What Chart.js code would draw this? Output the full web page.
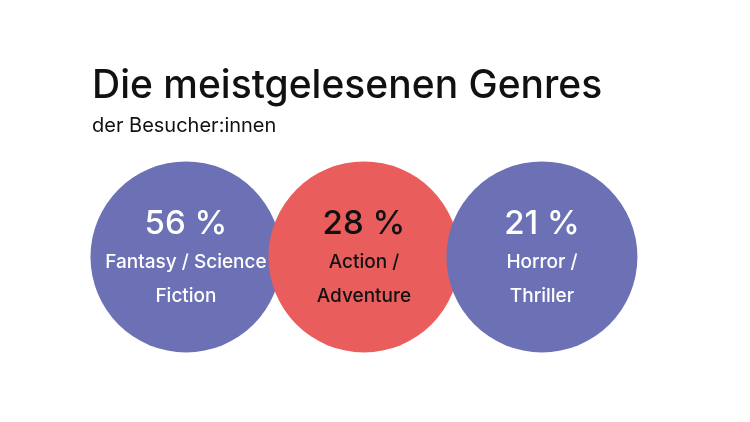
<!DOCTYPE html>
<html lang="de">
<head>
<meta charset="utf-8">
<title>Die meistgelesenen Genres</title>
<script src="https://cdn.jsdelivr.net/npm/chart.js@4/dist/chart.umd.min.js"></script>
<style>
  html, body { margin: 0; padding: 0; background: #fff; }
  #wrap { width: 750px; height: 422px; position: relative; }
</style>
</head>
<body>
<div id="wrap"><canvas id="genres"></canvas></div>
<script>
/* globals Chart:false */

// Daten
const genres = [
  ['Fantasy / Science', 'Fiction'],
  ['Action /', 'Adventure'],
  ['Horror /', 'Thriller']
]
const shares = [56, 28, 21]
const bubbleColors = ['#6c71b5', '#ea5d5d', '#6c71b5']
const textColors = ['#ffffff', '#111111', '#ffffff']

const fontFamily = "Inter, 'Noto Sans', sans-serif"

;(() => {
  'use strict'

  // Text in den Kreisen
  const bubbleLabels = {
    id: 'bubbleLabels',
    afterDatasetsDraw (chart) {
      const { ctx } = chart
      const meta = chart.getDatasetMeta(0)
      ctx.save()
      ctx.textAlign = 'center'
      ctx.textBaseline = 'alphabetic'
      meta.data.forEach((pt, i) => {
        ctx.fillStyle = textColors[i]
        ctx.font = `500 33px ${fontFamily}`
        ctx.fillText(shares[i] + ' %', pt.x, pt.y - 23)
        ctx.font = `500 19px ${fontFamily}`
        genres[i].forEach((line, j) => {
          ctx.fillText(line, pt.x, pt.y + 11 + j * 34)
        })
      })
      ctx.restore()
    }
  }

  const ctx = document.getElementById('genres')
  // eslint-disable-next-line no-unused-vars
  const chart = new Chart(ctx, {
    type: 'scatter',
    data: {
      datasets: [{
        data: shares.map((v, i) => ({ x: i, y: 0 })),
        backgroundColor: bubbleColors,
        borderWidth: 0,
        pointRadius: 95.5,
        pointHoverRadius: 95.5,
        clip: false
      }]
    },
    options: {
      responsive: true,
      maintainAspectRatio: false,
      animation: false,
      events: [],
      layout: {
        autoPadding: false,
        padding: { top: 65, left: 92, right: 0, bottom: 46 }
      },
      scales: {
        x: { type: 'linear', display: false, min: -0.528, max: 3.169 },
        y: { display: false, min: -1, max: 1 }
      },
      plugins: {
        legend: { display: false },
        tooltip: { enabled: false },
        title: {
          display: true,
          text: 'Die meistgelesenen Genres',
          align: 'start',
          color: '#111',
          font: { family: fontFamily, size: 39, weight: '500', lineHeight: 1.1 },
          padding: { top: 0, bottom: 0 }
        },
        subtitle: {
          display: true,
          text: 'der Besucher:innen',
          align: 'start',
          color: '#111',
          font: { family: fontFamily, size: 20, weight: '400', lineHeight: 1.2 },
          padding: { top: 6, bottom: 0 }
        }
      }
    },
    plugins: [bubbleLabels]
  })
})()
</script>
</body>
</html>
